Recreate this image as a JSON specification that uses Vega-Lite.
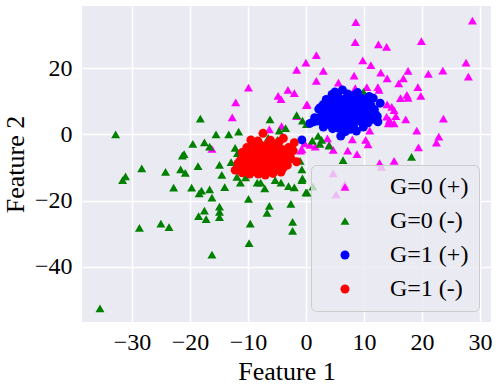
{
"$schema":"https://vega.github.io/schema/vega-lite/v6.json",
"width":409,"height":316,
"autosize":"none",
"padding":{"left":82,"top":6,"right":8,"bottom":65},
"background":"white",
"data":{"values":[
{"g":"G=0 (+)","x":8.6,"y":33.8},{"g":"G=0 (+)","x":28.7,"y":34.3},{"g":"G=0 (+)","x":8.5,"y":27.8},{"g":"G=0 (+)","x":12.5,"y":27.1},{"g":"G=0 (+)","x":13.9,"y":26.4},{"g":"G=0 (+)","x":19.9,"y":28.1},{"g":"G=0 (+)","x":1.8,"y":23.9},{"g":"G=0 (+)","x":0.0,"y":21.6},{"g":"G=0 (+)","x":-1.6,"y":19.4},{"g":"G=0 (+)","x":9.8,"y":22.3},{"g":"G=0 (+)","x":11.2,"y":20.9},{"g":"G=0 (+)","x":3.0,"y":19.1},{"g":"G=0 (+)","x":8.3,"y":17.7},{"g":"G=0 (+)","x":12.9,"y":18.6},{"g":"G=0 (+)","x":14.0,"y":16.9},{"g":"G=0 (+)","x":17.6,"y":19.1},{"g":"G=0 (+)","x":16.8,"y":16.9},{"g":"G=0 (+)","x":16.0,"y":15.4},{"g":"G=0 (+)","x":21.1,"y":18.2},{"g":"G=0 (+)","x":23.6,"y":19.2},{"g":"G=0 (+)","x":27.6,"y":21.6},{"g":"G=0 (+)","x":28.0,"y":17.4},{"g":"G=0 (+)","x":1.8,"y":16.1},{"g":"G=0 (+)","x":5.6,"y":15.6},{"g":"G=0 (+)","x":8.5,"y":13.9},{"g":"G=0 (+)","x":12.4,"y":14.2},{"g":"G=0 (+)","x":12.6,"y":13.4},{"g":"G=0 (+)","x":-3.1,"y":13.4},{"g":"G=0 (+)","x":-2.0,"y":12.4},{"g":"G=0 (+)","x":-4.8,"y":11.6},{"g":"G=0 (+)","x":-4.3,"y":10.6},{"g":"G=0 (+)","x":19.3,"y":14.2},{"g":"G=0 (+)","x":19.8,"y":11.6},{"g":"G=0 (+)","x":16.3,"y":10.9},{"g":"G=0 (+)","x":17.4,"y":11.9},{"g":"G=0 (+)","x":17.6,"y":11.0},{"g":"G=0 (+)","x":14.0,"y":9.0},{"g":"G=0 (+)","x":14.8,"y":8.3},{"g":"G=0 (+)","x":15.2,"y":7.3},{"g":"G=0 (+)","x":0.2,"y":9.0},{"g":"G=0 (+)","x":-9.9,"y":14.1},{"g":"G=0 (+)","x":-12.1,"y":9.6},{"g":"G=0 (+)","x":-12.7,"y":5.1},{"g":"G=0 (+)","x":-16.2,"y":-4.4},{"g":"G=0 (+)","x":-4.2,"y":2.5},{"g":"G=0 (+)","x":-6.3,"y":1.5},{"g":"G=0 (+)","x":13.9,"y":5.3},{"g":"G=0 (+)","x":14.4,"y":4.3},{"g":"G=0 (+)","x":15.2,"y":3.3},{"g":"G=0 (+)","x":15.5,"y":5.5},{"g":"G=0 (+)","x":23.7,"y":4.7},{"g":"G=0 (+)","x":19.1,"y":1.1},{"g":"G=0 (+)","x":22.9,"y":-0.7},{"g":"G=0 (+)","x":22.5,"y":-2.5},{"g":"G=0 (+)","x":19.4,"y":-3.9},{"g":"G=0 (+)","x":15.2,"y":-8.0},{"g":"G=0 (+)","x":12.7,"y":-8.7},{"g":"G=0 (+)","x":13.0,"y":-9.8},{"g":"G=0 (+)","x":8.0,"y":-1.5},{"g":"G=0 (+)","x":10.3,"y":-1.7},{"g":"G=0 (+)","x":10.7,"y":-3.0},{"g":"G=0 (+)","x":7.2,"y":-4.9},{"g":"G=0 (+)","x":8.8,"y":-6.0},{"g":"G=0 (+)","x":3.7,"y":-1.2},{"g":"G=0 (+)","x":4.0,"y":-3.2},{"g":"G=0 (+)","x":4.7,"y":-4.7},{"g":"G=0 (+)","x":6.7,"y":-15.1},{"g":"G=0 (+)","x":4.7,"y":-11.8},{"g":"G=0 (+)","x":5.2,"y":-18.1},{"g":"G=0 (+)","x":-0.9,"y":-4.9},{"g":"G=0 (+)","x":5.3,"y":12.4},{"g":"G=0 (+)","x":10.5,"y":14.2},{"g":"G=0 (+)","x":17.2,"y":4.5},{"g":"G=0 (+)","x":9.9,"y":3.8},{"g":"G=0 (+)","x":11.0,"y":1.1},{"g":"G=0 (+)","x":11.6,"y":7.8},{"g":"G=0 (+)","x":12.2,"y":5.3},{"g":"G=0 (+)","x":-1.6,"y":5.5},{"g":"G=0 (+)","x":0.1,"y":8.8},{"g":"G=0 (+)","x":-0.2,"y":-2.7},{"g":"G=0 (+)","x":1.6,"y":-3.7},{"g":"G=0 (+)","x":-0.7,"y":-4.5},{"g":"G=0 (+)","x":0.7,"y":-3.2},{"g":"G=0 (+)","x":14.2,"y":3.3},
{"g":"G=0 (-)","x":-32.8,"y":0},{"g":"G=0 (-)","x":-18.2,"y":4.7},{"g":"G=0 (-)","x":-15.5,"y":0},{"g":"G=0 (-)","x":-13.3,"y":0},{"g":"G=0 (-)","x":-11.6,"y":0.8},{"g":"G=0 (-)","x":-19.5,"y":-2.9},{"g":"G=0 (-)","x":-17.5,"y":-2.4},{"g":"G=0 (-)","x":-16.6,"y":-3.7},{"g":"G=0 (-)","x":-12.2,"y":-4.1},{"g":"G=0 (-)","x":-21.3,"y":-6.4},{"g":"G=0 (-)","x":-21.0,"y":-6.0},{"g":"G=0 (-)","x":-14.9,"y":-9.2},{"g":"G=0 (-)","x":-12.9,"y":-8.4},{"g":"G=0 (-)","x":-18.6,"y":-9.6},{"g":"G=0 (-)","x":-28.3,"y":-10.3},{"g":"G=0 (-)","x":-24.2,"y":-11.3},{"g":"G=0 (-)","x":-21.6,"y":-10.6},{"g":"G=0 (-)","x":-20.8,"y":-11.6},{"g":"G=0 (-)","x":-31.1,"y":-12.7},{"g":"G=0 (-)","x":-31.6,"y":-13.8},{"g":"G=0 (-)","x":-14.5,"y":-12.2},{"g":"G=0 (-)","x":-11.9,"y":-12.8},{"g":"G=0 (-)","x":-22.8,"y":-16.1},{"g":"G=0 (-)","x":-19.7,"y":-16.1},{"g":"G=0 (-)","x":-18.0,"y":-17.0},{"g":"G=0 (-)","x":-18.4,"y":-17.8},{"g":"G=0 (-)","x":-16.6,"y":-16.6},{"g":"G=0 (-)","x":-14.0,"y":-15.9},{"g":"G=0 (-)","x":-11.3,"y":-14.6},{"g":"G=0 (-)","x":-16.2,"y":-19.1},{"g":"G=0 (-)","x":-14.9,"y":-21.8},{"g":"G=0 (-)","x":-14.9,"y":-23.4},{"g":"G=0 (-)","x":-14.9,"y":-25.0},{"g":"G=0 (-)","x":-17.5,"y":-23.0},{"g":"G=0 (-)","x":-18.5,"y":-24.7},{"g":"G=0 (-)","x":-17.2,"y":-25.6},{"g":"G=0 (-)","x":-28.7,"y":-28.2},{"g":"G=0 (-)","x":-25.0,"y":-26.9},{"g":"G=0 (-)","x":-23.6,"y":-28.0},{"g":"G=0 (-)","x":-9.6,"y":-26.9},{"g":"G=0 (-)","x":-9.8,"y":-32.8},{"g":"G=0 (-)","x":-16.2,"y":-36.3},{"g":"G=0 (-)","x":-2.3,"y":-26.4},{"g":"G=0 (-)","x":-2.3,"y":-29.1},{"g":"G=0 (-)","x":-35.5,"y":-52.5},{"g":"G=0 (-)","x":-8.4,"y":-14.6},{"g":"G=0 (-)","x":-7.8,"y":-14.6},{"g":"G=0 (-)","x":-5.3,"y":-13.8},{"g":"G=0 (-)","x":-4.3,"y":-14.6},{"g":"G=0 (-)","x":-3.0,"y":-15.6},{"g":"G=0 (-)","x":-2.0,"y":-16.0},{"g":"G=0 (-)","x":-0.7,"y":-13.8},{"g":"G=0 (-)","x":0.0,"y":-17.5},{"g":"G=0 (-)","x":1.2,"y":-15.8},{"g":"G=0 (-)","x":-9.9,"y":-19.5},{"g":"G=0 (-)","x":-6.3,"y":-21.6},{"g":"G=0 (-)","x":-6.7,"y":-23.7},{"g":"G=0 (-)","x":-2.6,"y":-21.0},{"g":"G=0 (-)","x":-6.2,"y":4.5},{"g":"G=0 (-)","x":-6.5,"y":-1.1},{"g":"G=0 (-)","x":-4.9,"y":-1.7},{"g":"G=0 (-)","x":-3.5,"y":1.9},{"g":"G=0 (-)","x":-11.8,"y":-5.7},{"g":"G=0 (-)","x":-0.6,"y":4.1},{"g":"G=0 (-)","x":0.1,"y":3.1},{"g":"G=0 (-)","x":2.1,"y":-0.5},{"g":"G=0 (-)","x":2.7,"y":-1.7},{"g":"G=0 (-)","x":1.1,"y":-1.9},{"g":"G=0 (-)","x":4.0,"y":-3.4},{"g":"G=0 (-)","x":-1.0,"y":-8.0},{"g":"G=0 (-)","x":-0.7,"y":-10.6},{"g":"G=0 (-)","x":-0.6,"y":-13.3},{"g":"G=0 (-)","x":-10.4,"y":-13.0},{"g":"G=0 (-)","x":-7.1,"y":-16.3},{"g":"G=0 (-)","x":-1.6,"y":5.8},{"g":"G=0 (-)","x":-4.6,"y":1.1},{"g":"G=0 (-)","x":2.4,"y":-2.9},{"g":"G=0 (-)","x":0.2,"y":-17.6},{"g":"G=0 (-)","x":18.2,"y":-6.8},{"g":"G=0 (-)","x":6.4,"y":-7.8},{"g":"G=0 (-)","x":9.9,"y":12.8},
{"g":"G=1 (+)","x":6.3,"y":13.4},{"g":"G=1 (+)","x":6.0,"y":-0.5},{"g":"G=1 (+)","x":0.7,"y":3.3},{"g":"G=1 (+)","x":2.2,"y":7.6},{"g":"G=1 (+)","x":12.4,"y":3.8},{"g":"G=1 (+)","x":11.6,"y":10.9},{"g":"G=1 (+)","x":12.8,"y":9.4},{"g":"G=1 (+)","x":-0.7,"y":-1.7},{"g":"G=1 (+)","x":4.5,"y":12.0},{"g":"G=1 (+)","x":5.5,"y":11.5},{"g":"G=1 (+)","x":7.2,"y":12.2},{"g":"G=1 (+)","x":8.3,"y":11.8},{"g":"G=1 (+)","x":9.5,"y":11.0},{"g":"G=1 (+)","x":10.5,"y":10.2},{"g":"G=1 (+)","x":3.5,"y":10.5},{"g":"G=1 (+)","x":4.8,"y":10.2},{"g":"G=1 (+)","x":6.0,"y":10.6},{"g":"G=1 (+)","x":7.5,"y":10.3},{"g":"G=1 (+)","x":8.8,"y":9.9},{"g":"G=1 (+)","x":10.0,"y":9.3},{"g":"G=1 (+)","x":11.2,"y":8.8},{"g":"G=1 (+)","x":3.0,"y":9.0},{"g":"G=1 (+)","x":4.0,"y":8.8},{"g":"G=1 (+)","x":5.2,"y":9.0},{"g":"G=1 (+)","x":6.5,"y":9.2},{"g":"G=1 (+)","x":7.8,"y":8.7},{"g":"G=1 (+)","x":9.0,"y":8.5},{"g":"G=1 (+)","x":10.3,"y":7.9},{"g":"G=1 (+)","x":11.8,"y":7.5},{"g":"G=1 (+)","x":2.8,"y":6.3},{"g":"G=1 (+)","x":3.8,"y":7.2},{"g":"G=1 (+)","x":4.9,"y":7.6},{"g":"G=1 (+)","x":5.8,"y":7.8},{"g":"G=1 (+)","x":6.9,"y":7.5},{"g":"G=1 (+)","x":8.0,"y":7.3},{"g":"G=1 (+)","x":9.2,"y":7.0},{"g":"G=1 (+)","x":10.6,"y":6.5},{"g":"G=1 (+)","x":12.0,"y":6.0},{"g":"G=1 (+)","x":1.5,"y":5.0},{"g":"G=1 (+)","x":2.5,"y":5.2},{"g":"G=1 (+)","x":3.6,"y":5.8},{"g":"G=1 (+)","x":4.6,"y":6.2},{"g":"G=1 (+)","x":5.6,"y":6.4},{"g":"G=1 (+)","x":6.6,"y":6.1},{"g":"G=1 (+)","x":7.6,"y":5.9},{"g":"G=1 (+)","x":8.6,"y":5.6},{"g":"G=1 (+)","x":9.7,"y":5.4},{"g":"G=1 (+)","x":11.0,"y":5.0},{"g":"G=1 (+)","x":2.0,"y":4.0},{"g":"G=1 (+)","x":3.2,"y":4.3},{"g":"G=1 (+)","x":4.3,"y":4.7},{"g":"G=1 (+)","x":5.3,"y":4.9},{"g":"G=1 (+)","x":6.3,"y":4.6},{"g":"G=1 (+)","x":7.3,"y":4.4},{"g":"G=1 (+)","x":8.3,"y":4.2},{"g":"G=1 (+)","x":9.5,"y":3.8},{"g":"G=1 (+)","x":10.7,"y":3.5},{"g":"G=1 (+)","x":3.9,"y":3.0},{"g":"G=1 (+)","x":5.0,"y":3.3},{"g":"G=1 (+)","x":6.1,"y":3.1},{"g":"G=1 (+)","x":7.1,"y":2.9},{"g":"G=1 (+)","x":8.2,"y":2.6},{"g":"G=1 (+)","x":9.9,"y":2.2},{"g":"G=1 (+)","x":4.6,"y":1.7},{"g":"G=1 (+)","x":7.7,"y":1.5},{"g":"G=1 (+)","x":5.6,"y":1.9},{"g":"G=1 (+)","x":6.8,"y":0.8},{"g":"G=1 (+)","x":3.0,"y":2.2},{"g":"G=1 (+)","x":1.3,"y":3.8},{"g":"G=1 (+)","x":11.5,"y":4.5},{"g":"G=1 (+)","x":12.3,"y":5.4},{"g":"G=1 (+)","x":7.0,"y":11.0},{"g":"G=1 (+)","x":5.0,"y":12.8},{"g":"G=1 (+)","x":8.9,"y":12.6},{"g":"G=1 (+)","x":6.2,"y":8.3},{"g":"G=1 (+)","x":4.2,"y":6.5},{"g":"G=1 (+)","x":9.9,"y":8.8},{"g":"G=1 (+)","x":2.5,"y":8.1},{"g":"G=1 (+)","x":10.9,"y":11.4},{"g":"G=1 (+)","x":7.4,"y":3.6},{"g":"G=1 (+)","x":8.7,"y":1.0},
{"g":"G=1 (-)","x":-7.4,"y":0.3},{"g":"G=1 (-)","x":-9.5,"y":-1.7},{"g":"G=1 (-)","x":-3.9,"y":-1.2},{"g":"G=1 (-)","x":-2.0,"y":-2.5},{"g":"G=1 (-)","x":-1.6,"y":-8.3},{"g":"G=1 (-)","x":-2.8,"y":-6.2},{"g":"G=1 (-)","x":-5.3,"y":-10.8},{"g":"G=1 (-)","x":-9.4,"y":-11.3},{"g":"G=1 (-)","x":-11.7,"y":-8.7},{"g":"G=1 (-)","x":-12.2,"y":-10.8},{"g":"G=1 (-)","x":-8.0,"y":-3.0},{"g":"G=1 (-)","x":-6.5,"y":-2.8},{"g":"G=1 (-)","x":-5.0,"y":-3.5},{"g":"G=1 (-)","x":-10.2,"y":-4.0},{"g":"G=1 (-)","x":-8.8,"y":-4.5},{"g":"G=1 (-)","x":-7.2,"y":-4.2},{"g":"G=1 (-)","x":-5.8,"y":-4.8},{"g":"G=1 (-)","x":-4.2,"y":-4.5},{"g":"G=1 (-)","x":-3.0,"y":-4.0},{"g":"G=1 (-)","x":-11.0,"y":-5.5},{"g":"G=1 (-)","x":-9.8,"y":-5.8},{"g":"G=1 (-)","x":-8.5,"y":-6.0},{"g":"G=1 (-)","x":-7.6,"y":-5.5},{"g":"G=1 (-)","x":-6.4,"y":-6.2},{"g":"G=1 (-)","x":-5.2,"y":-5.9},{"g":"G=1 (-)","x":-4.0,"y":-6.5},{"g":"G=1 (-)","x":-10.6,"y":-7.0},{"g":"G=1 (-)","x":-9.2,"y":-7.2},{"g":"G=1 (-)","x":-8.1,"y":-7.0},{"g":"G=1 (-)","x":-7.0,"y":-7.4},{"g":"G=1 (-)","x":-6.0,"y":-7.1},{"g":"G=1 (-)","x":-4.8,"y":-7.6},{"g":"G=1 (-)","x":-3.5,"y":-7.8},{"g":"G=1 (-)","x":-11.3,"y":-7.9},{"g":"G=1 (-)","x":-10.0,"y":-8.4},{"g":"G=1 (-)","x":-8.8,"y":-8.2},{"g":"G=1 (-)","x":-7.8,"y":-8.6},{"g":"G=1 (-)","x":-6.7,"y":-8.3},{"g":"G=1 (-)","x":-5.6,"y":-8.9},{"g":"G=1 (-)","x":-4.4,"y":-8.7},{"g":"G=1 (-)","x":-3.2,"y":-9.3},{"g":"G=1 (-)","x":-10.8,"y":-9.5},{"g":"G=1 (-)","x":-9.6,"y":-9.7},{"g":"G=1 (-)","x":-8.4,"y":-9.4},{"g":"G=1 (-)","x":-7.3,"y":-9.9},{"g":"G=1 (-)","x":-6.2,"y":-9.6},{"g":"G=1 (-)","x":-5.0,"y":-10.0},{"g":"G=1 (-)","x":-4.0,"y":-10.3},{"g":"G=1 (-)","x":-11.5,"y":-10.2},{"g":"G=1 (-)","x":-10.3,"y":-10.8},{"g":"G=1 (-)","x":-8.9,"y":-10.6},{"g":"G=1 (-)","x":-7.8,"y":-11.0},{"g":"G=1 (-)","x":-6.6,"y":-11.2},{"g":"G=1 (-)","x":-6.0,"y":-10.5},{"g":"G=1 (-)","x":-8.2,"y":-12.0},{"g":"G=1 (-)","x":-7.0,"y":-12.3},{"g":"G=1 (-)","x":-9.0,"y":-5.0},{"g":"G=1 (-)","x":-6.8,"y":-5.0},{"g":"G=1 (-)","x":-7.9,"y":-6.4},{"g":"G=1 (-)","x":-6.9,"y":-6.8},{"g":"G=1 (-)","x":-8.6,"y":-7.8},{"g":"G=1 (-)","x":-7.5,"y":-8.0},{"g":"G=1 (-)","x":-6.3,"y":-7.7},{"g":"G=1 (-)","x":-9.9,"y":-6.5},{"g":"G=1 (-)","x":-5.4,"y":-6.7},{"g":"G=1 (-)","x":-4.6,"y":-5.3},{"g":"G=1 (-)","x":-6.6,"y":-3.8},{"g":"G=1 (-)","x":-7.7,"y":-3.4},{"g":"G=1 (-)","x":-9.3,"y":-3.3},{"g":"G=1 (-)","x":-8.3,"y":-2.0},{"g":"G=1 (-)","x":-6.1,"y":-1.8},{"g":"G=1 (-)","x":-10.5,"y":-6.0},{"g":"G=1 (-)","x":-3.8,"y":-8.9},{"g":"G=1 (-)","x":-2.6,"y":-7.3},{"g":"G=1 (-)","x":-4.3,"y":-11.4},{"g":"G=1 (-)","x":-5.7,"y":-11.8},{"g":"G=1 (-)","x":-9.7,"y":-12.0},{"g":"G=1 (-)","x":-11.0,"y":-11.6},{"g":"G=1 (-)","x":-7.1,"y":-6.0},{"g":"G=1 (-)","x":-8.0,"y":-9.0},{"g":"G=1 (-)","x":-6.5,"y":-9.1},{"g":"G=1 (-)","x":-5.1,"y":-8.1},{"g":"G=1 (-)","x":-9.1,"y":-8.9},{"g":"G=1 (-)","x":-10.1,"y":-9.2},{"g":"G=1 (-)","x":-7.4,"y":-10.6},{"g":"G=1 (-)","x":-8.6,"y":-11.4},{"g":"G=1 (-)","x":-5.5,"y":-4.1},{"g":"G=1 (-)","x":-4.6,"y":-2.2},{"g":"G=1 (-)","x":-3.1,"y":-5.4},{"g":"G=1 (-)","x":-2.2,"y":-4.9}
]},
"mark":{"type":"point","filled":true,"opacity":1},
"encoding":{
"x":{"field":"x","type":"quantitative","title":"Feature 1","scale":{"domain":[-38.6,31.9],"nice":false,"zero":false},"axis":{"values":[-30,-20,-10,0,10,20,30],"labelPadding":8,"titlePadding":4}},
"y":{"field":"y","type":"quantitative","title":"Feature 2","scale":{"domain":[-56.6,38.7],"nice":false,"zero":false},"axis":{"values":[-40,-20,0,20],"labelPadding":10,"titlePadding":6}},
"color":{"field":"g","type":"nominal","scale":{"domain":["G=0 (+)","G=0 (-)","G=1 (+)","G=1 (-)"],"range":["#FF00FF","#008000","#0000FF","#FF0000"]},"legend":{"title":null}},
"shape":{"field":"g","type":"nominal","scale":{"domain":["G=0 (+)","G=0 (-)","G=1 (+)","G=1 (-)"],"range":["triangle-up","triangle-up","circle","circle"]},"legend":{"title":null}},
"size":{"field":"g","type":"nominal","scale":{"domain":["G=0 (+)","G=0 (-)","G=1 (+)","G=1 (-)"],"range":[80,80,55,55]},"legend":null}
},
"config":{
"view":{"fill":"#EAEAF2","stroke":null},
"axis":{"domain":false,"ticks":false,"grid":true,"gridColor":"#FFFFFF","gridWidth":1.5,"labelFont":"Liberation Serif","labelFontSize":24,"labelColor":"#000000","titleFont":"Liberation Serif","titleFontSize":26,"titleFontWeight":"normal","titleColor":"#000000"},
"legend":{"orient":"none","legendX":229,"legendY":159,"fillColor":"rgba(234,234,242,0.8)","strokeColor":"#CCCCCC","cornerRadius":5,"padding":10,"labelFont":"Liberation Serif","labelFontSize":24,"labelColor":"#000000","symbolSize":55,"rowPadding":10,"symbolOffset":12,"labelOffset":33}
}
}
